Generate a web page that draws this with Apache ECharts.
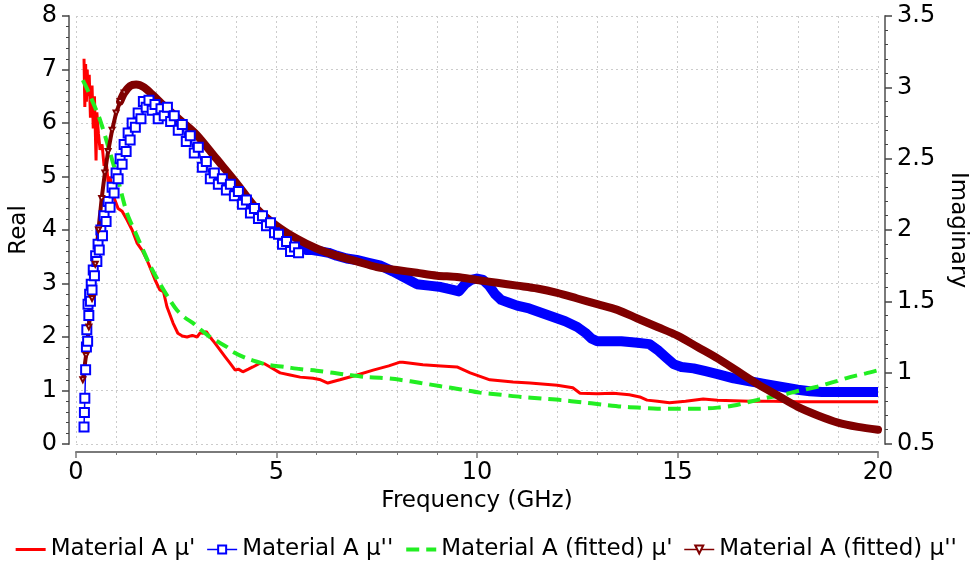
<!DOCTYPE html>
<html><head><meta charset="utf-8">
<script src="https://cdn.jsdelivr.net/npm/echarts@6/dist/echarts.min.js"></script>
<style>html,body{margin:0;padding:0;background:#fff}#c{width:971px;height:571px}</style>
</head><body><div id="c"></div>
<script>
// Material A mu' (measured, real part, left axis)
const realMeasF = [0.20,0.22,0.24,0.26,0.28,0.30,0.33,0.36,0.40,0.43,0.46,0.50,0.52,0.56,0.60,0.65,0.70,0.75,0.80,0.85,0.90,0.97,1.05,1.15,1.27,1.40,1.52,1.65,1.77,1.90,1.97,2.09,2.18,2.27,2.42,2.54,2.65,2.77,2.90,3.02,3.10,3.17,3.25,3.34,3.45,3.59,3.72,3.84,3.97,4.05,4.16,4.30,4.41,4.59,4.70,4.84,5.09,5.34,5.59,5.91,6.10,6.28,6.58,7.01,7.41,7.80,8.08,8.15,8.65,9.10,9.50,9.83,10.32,10.9,11.32,12.0,12.39,12.57,13.0,13.4,13.8,14.06,14.24,14.5,14.8,15.2,15.64,16.0,16.4,16.8,17.4,18.0,20.0];
const realMeasV = [7.2,6.3,7.1,6.4,7.0,6.5,6.9,6.1,6.7,5.9,6.5,5.3,6.2,5.8,5.5,5.6,5.2,5.3,4.9,5.0,4.7,4.56,4.40,4.35,4.19,4.00,3.76,3.62,3.44,3.20,3.07,2.88,2.85,2.56,2.26,2.07,2.02,2.00,2.03,2.00,2.08,2.07,2.10,2.00,1.90,1.76,1.63,1.51,1.38,1.40,1.35,1.40,1.44,1.51,1.50,1.44,1.33,1.29,1.25,1.23,1.20,1.14,1.20,1.29,1.38,1.46,1.53,1.53,1.48,1.46,1.44,1.33,1.20,1.16,1.14,1.10,1.05,0.95,0.94,0.95,0.92,0.88,0.82,0.80,0.77,0.80,0.84,0.82,0.81,0.80,0.80,0.79,0.79];

// Material A mu'' (measured, imaginary part, right axis)
const imagMeasF = [0.20,0.21,0.22,0.24,0.26,0.27,0.29,0.30,0.32,0.34,0.36,0.38,0.40,0.43,0.46,0.49,0.52,0.55,0.58,0.62,0.66,0.70,0.75,0.80,0.85,0.90,0.95,1.00,1.05,1.10,1.15,1.20,1.25,1.30,1.35,1.40,1.48,1.55,1.62,1.68,1.75,1.82,1.90,1.97,2.05,2.12,2.20,2.28,2.36,2.45,2.55,2.65,2.75,2.85,2.95,3.05,3.15,3.25,3.35,3.45,3.55,3.65,3.75,3.85,3.95,4.05,4.15,4.25,4.35,4.45,4.55,4.65,4.75,4.85,4.95,5.05,5.15,5.25,5.35,5.45,5.55,5.65,5.75,5.90,6.10,6.30,6.50,6.75,7.00,7.30,7.60,7.90,8.10,8.30,8.50,8.80,9.10,9.40,9.55,9.70,9.85,10.00,10.15,10.30,10.45,10.60,10.80,11.00,11.30,11.60,11.90,12.20,12.50,12.70,12.85,13.00,13.30,13.60,14.00,14.30,14.50,14.70,14.90,15.10,15.40,15.70,16.00,16.40,16.80,17.20,17.60,18.00,18.30,18.60,19.00,19.50,20.00];
const imagMeasV = [0.62,0.72,0.82,1.02,1.18,1.30,1.22,1.48,1.40,1.55,1.50,1.62,1.58,1.72,1.68,1.82,1.78,1.90,1.86,2.00,1.96,2.10,2.06,2.20,2.16,2.30,2.26,2.40,2.36,2.50,2.46,2.60,2.55,2.68,2.63,2.75,2.72,2.82,2.78,2.90,2.86,2.91,2.84,2.88,2.78,2.85,2.80,2.86,2.76,2.80,2.70,2.74,2.62,2.66,2.54,2.58,2.44,2.48,2.36,2.40,2.32,2.36,2.28,2.32,2.24,2.27,2.18,2.21,2.12,2.15,2.08,2.10,2.03,2.05,1.98,1.97,1.90,1.92,1.85,1.88,1.84,1.87,1.86,1.86,1.85,1.84,1.82,1.80,1.79,1.77,1.75,1.71,1.68,1.65,1.62,1.61,1.60,1.58,1.57,1.62,1.65,1.66,1.65,1.61,1.55,1.51,1.49,1.47,1.45,1.42,1.39,1.36,1.32,1.28,1.24,1.22,1.22,1.22,1.21,1.20,1.16,1.11,1.06,1.04,1.03,1.01,0.99,0.96,0.94,0.92,0.90,0.88,0.87,0.865,0.865,0.865,0.865];

// Material A (fitted) mu' (left axis)
const realFitF = [0.17,0.30,0.42,0.60,0.85,1.05,1.27,1.50,1.67,1.85,2.09,2.30,2.52,2.72,2.92,3.09,3.34,3.52,3.77,3.92,4.26,4.59,4.76,5.20,5.59,6.00,6.41,6.80,7.26,7.58,8.08,8.60,9.10,9.60,10.07,10.6,11.1,11.6,12.1,12.6,13.1,13.6,14.0,14.5,15.0,15.5,16.0,16.4,16.8,17.2,17.63,18.0,18.48,18.9,19.3,19.7,20.0];
const realFitV = [6.80,6.60,6.39,6.06,5.44,4.93,4.32,3.92,3.63,3.33,3.00,2.74,2.50,2.36,2.26,2.15,2.00,1.92,1.81,1.72,1.60,1.52,1.48,1.44,1.40,1.37,1.33,1.29,1.25,1.24,1.20,1.14,1.08,1.02,0.96,0.92,0.88,0.85,0.82,0.78,0.74,0.70,0.68,0.66,0.66,0.66,0.68,0.72,0.79,0.86,0.92,0.99,1.07,1.16,1.25,1.32,1.38];

// Material A (fitted) mu'' (right axis)
const imagFitF = [0.17,0.25,0.32,0.40,0.48,0.56,0.64,0.72,0.80,0.90,1.00,1.10,1.20,1.35,1.50,1.70,1.90,2.20,2.60,3.00,3.50,4.00,4.50,5.00,5.50,6.00,6.50,7.00,7.50,8.00,8.50,9.00,9.50,10.00,10.50,11.00,11.50,12.00,12.50,13.00,13.50,14.00,14.50,15.00,15.50,16.00,16.50,17.00,17.50,18.00,18.50,19.00,19.50,20.00];
const imagFitV = [0.95,1.12,1.32,1.52,1.76,2.00,2.22,2.40,2.55,2.70,2.82,2.90,2.96,3.01,3.02,3.00,2.95,2.87,2.77,2.67,2.50,2.33,2.15,2.03,1.94,1.87,1.82,1.78,1.74,1.72,1.70,1.68,1.67,1.65,1.63,1.61,1.59,1.56,1.52,1.48,1.44,1.38,1.32,1.26,1.18,1.10,1.01,0.92,0.84,0.76,0.70,0.65,0.62,0.60];

const seriesNames = ["Material A \u03bc'", "Material A \u03bc''", "Material A (fitted) \u03bc'", "Material A (fitted) \u03bc''"];
const xTickValues = [0, 5, 10, 15, 20];
const realTicks = [0, 1, 2, 3, 4, 5, 6, 7, 8];
const imagTicks = [0.5, 1, 1.5, 2, 2.5, 3, 3.5];

const FONT = 'DejaVu Sans';
const zip = (f, v) => f.map((x, i) => [x, v[i]]);
const pick = (f, v, test) => zip(f, v).filter(p => test(p[0]));

const gridDot = {color: '#cccccc', type: [2, 3], width: 1};
const axisGray = '#7a7a7a';

const chart = echarts.init(document.getElementById('c'), null, {renderer: 'canvas'});
chart.setOption({
  animation: false,
  backgroundColor: '#fff',
  grid: {left: 76, right: 93, top: 16, bottom: 127, containLabel: false, outerBoundsMode: 'none'},
  legend: {
    top: 533, left: 'center', itemWidth: 30, itemHeight: 10, itemGap: 11,
    textStyle: {fontSize: 23, color: '#000', fontFamily: FONT},
    selectedMode: false,
    data: [
      {name: seriesNames[0], itemStyle: {opacity: 0}, lineStyle: {width: 3}},
      {name: seriesNames[1], lineStyle: {width: 1.5}},
      {name: seriesNames[2], itemStyle: {opacity: 0}, lineStyle: {width: 4}},
      {name: seriesNames[3], lineStyle: {width: 1.5}}
    ]
  },
  xAxis: {
    type: 'value', min: xTickValues[0], max: xTickValues[xTickValues.length - 1], interval: 5, offset: 8,
    axisLine: {show: true, onZero: false, lineStyle: {color: axisGray, width: 2}},
    axisTick: {show: true, length: 6, lineStyle: {color: axisGray, width: 1.5}},
    minorTick: {show: true, splitNumber: 5, length: 3, lineStyle: {color: axisGray, width: 1}},
    splitLine: {show: true, lineStyle: gridDot},
    minorSplitLine: {show: true, lineStyle: gridDot},
    axisLabel: {fontSize: 24, color: '#000', margin: 9, fontFamily: FONT, showMinLabel: true, showMaxLabel: true},
    name: 'Frequency (GHz)', nameLocation: 'middle', nameGap: 31,
    nameTextStyle: {fontSize: 23, color: '#000', fontFamily: FONT}
  },
  yAxis: [{
    type: 'value', position: 'left', min: realTicks[0], max: realTicks[realTicks.length - 1], interval: 1, offset: 7,
    axisLine: {show: true, onZero: false, lineStyle: {color: axisGray, width: 2}},
    axisTick: {show: true, length: 7, lineStyle: {color: '#444', width: 1.5}},
    minorTick: {show: true, splitNumber: 5, length: 3, lineStyle: {color: '#444', width: 1}},
    splitLine: {show: true, lineStyle: gridDot},
    axisLabel: {fontSize: 24, color: '#000', margin: 12, fontFamily: FONT, showMinLabel: true, showMaxLabel: true},
    name: 'Real', nameLocation: 'middle', nameGap: 33, nameRotate: 90,
    nameTextStyle: {fontSize: 23, color: '#000', fontFamily: FONT}
  }, {
    type: 'value', position: 'right', min: imagTicks[0], max: imagTicks[imagTicks.length - 1], interval: 0.5, offset: 7,
    axisLine: {show: true, onZero: false, lineStyle: {color: axisGray, width: 2}},
    axisTick: {show: true, length: 7, lineStyle: {color: '#444', width: 1.5}},
    minorTick: {show: true, splitNumber: 5, length: 3, lineStyle: {color: '#444', width: 1}},
    splitLine: {show: false},
    axisLabel: {fontSize: 24, color: '#000', margin: 12, fontFamily: FONT, showMinLabel: true, showMaxLabel: true},
    name: 'Imaginary', nameLocation: 'middle', nameGap: 49, nameRotate: -90,
    nameTextStyle: {fontSize: 23, color: '#000', fontFamily: FONT}
  }],
  series: [
    {
      name: seriesNames[0], type: 'line', yAxisIndex: 0, data: zip(realMeasF, realMeasV),
      symbol: 'none', lineStyle: {color: '#ff0000', width: 3}, itemStyle: {color: '#ff0000'}
    },
    {
      name: seriesNames[1], type: 'line', yAxisIndex: 1, data: pick(imagMeasF, imagMeasV, f => f <= 5.6),
      symbol: 'emptyRect', symbolSize: 9, showAllSymbol: true,
      lineStyle: {color: '#0000ff', width: 1.5}, itemStyle: {color: '#0000ff', borderWidth: 1.3}
    },
    {
      name: seriesNames[1], type: 'line', yAxisIndex: 1, data: pick(imagMeasF, imagMeasV, f => f >= 5.5),
      symbol: 'none', lineStyle: {color: '#0000ff', width: 10, join: 'round'}, itemStyle: {color: '#0000ff'}
    },
    {
      name: seriesNames[2], type: 'line', yAxisIndex: 0, data: zip(realFitF, realFitV), smooth: 0.3,
      symbol: 'none', lineStyle: {color: '#22ee22', width: 4, type: [13, 7]}, itemStyle: {color: '#22ee22'}
    },
    {
      name: seriesNames[3], type: 'line', yAxisIndex: 1, data: pick(imagFitF, imagFitV, f => f <= 1.2),
      symbol: 'emptyTriangle', symbolRotate: 180, symbolSize: 5, showAllSymbol: true,
      lineStyle: {color: '#800000', width: 4}, itemStyle: {color: '#800000', borderWidth: 1}
    },
    {
      name: seriesNames[3], type: 'line', yAxisIndex: 1, data: pick(imagFitF, imagFitV, f => f >= 1.1), smooth: 0.3,
      symbol: 'none', lineStyle: {color: '#800000', width: 8, cap: 'round'}, itemStyle: {color: '#800000'}
    }
  ]
});
</script>
</body></html>
